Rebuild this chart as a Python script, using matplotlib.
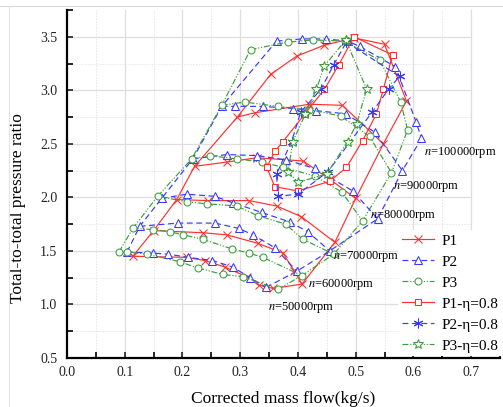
import matplotlib
matplotlib.use("Agg")
import matplotlib.pyplot as plt
from matplotlib.ticker import MultipleLocator
from matplotlib.lines import Line2D

plt.rcParams['font.family'] = ['Liberation Serif', 'DejaVu Serif']
plt.rcParams['mathtext.fontset'] = 'stix'

speeds = [50000, 60000, 70000, 80000, 90000, 100000]

# Speed lines: corrected mass flow (kg/s) and total-to-total pressure ratio
p1_flow = [
    [0.114, 0.207, 0.239, 0.273, 0.311, 0.332, 0.357],
    [0.150, 0.235, 0.277, 0.331, 0.374, 0.394, 0.407],
    [0.190, 0.244, 0.315, 0.363, 0.406, 0.464],
    [0.221, 0.277, 0.329, 0.409, 0.455, 0.500],
    [0.295, 0.325, 0.420, 0.477, 0.548],
    [0.353, 0.398, 0.445, 0.497, 0.550, 0.588],
]
p1_pr = [
    [1.45, 1.44, 1.41, 1.35, 1.26, 1.18, 1.15],
    [1.69, 1.67, 1.65, 1.57, 1.48, 1.31, 1.19],
    [1.98, 1.97, 1.97, 1.92, 1.82, 1.58],
    [2.29, 2.33, 2.37, 2.34, 2.17, 1.99],
    [2.75, 2.79, 2.87, 2.86, 2.50],
    [3.15, 3.32, 3.42, 3.49, 3.43, 2.90],
]

p2_flow = [
    [0.104, 0.149, 0.175, 0.210, 0.252, 0.287, 0.317, 0.345],
    [0.126, 0.192, 0.256, 0.298, 0.322, 0.360, 0.398],
    [0.164, 0.207, 0.256, 0.287, 0.337, 0.386, 0.417, 0.455],
    [0.218, 0.277, 0.329, 0.380, 0.429, 0.495, 0.538],
    [0.268, 0.291, 0.339, 0.391, 0.432, 0.483, 0.533, 0.581],
    [0.363, 0.407, 0.448, 0.486, 0.507, 0.569, 0.605, 0.614],
]
p2_pr = [
    [1.49, 1.48, 1.47, 1.44, 1.41, 1.35, 1.25, 1.16],
    [1.73, 1.76, 1.76, 1.71, 1.65, 1.53, 1.31],
    [1.99, 2.03, 2.01, 1.95, 1.86, 1.77, 1.68, 1.50],
    [2.36, 2.40, 2.39, 2.35, 2.27, 2.06, 1.80],
    [2.85, 2.85, 2.85, 2.83, 2.81, 2.78, 2.61, 2.25],
    [3.46, 3.48, 3.48, 3.46, 3.41, 3.22, 2.70, 2.55],
]

p3_flow = [
    [0.090, 0.104, 0.138, 0.195, 0.227, 0.270, 0.305, 0.365],
    [0.114, 0.149, 0.178, 0.201, 0.235, 0.285, 0.315, 0.339, 0.407],
    [0.157, 0.207, 0.242, 0.294, 0.330, 0.379, 0.408, 0.462],
    [0.216, 0.247, 0.294, 0.337, 0.375, 0.429, 0.476, 0.512],
    [0.268, 0.308, 0.365, 0.420, 0.474, 0.524, 0.562],
    [0.318, 0.382, 0.426, 0.481, 0.542, 0.578, 0.590],
]
p3_pr = [
    [1.49, 1.49, 1.47, 1.40, 1.34, 1.28, 1.26, 1.14],
    [1.71, 1.70, 1.68, 1.65, 1.61, 1.52, 1.48, 1.44, 1.27],
    [2.01, 1.96, 1.94, 1.92, 1.83, 1.75, 1.61, 1.47],
    [2.36, 2.39, 2.36, 2.33, 2.28, 2.20, 2.05, 1.78],
    [2.86, 2.89, 2.85, 2.82, 2.76, 2.57, 2.23],
    [3.38, 3.45, 3.47, 3.46, 3.28, 2.89, 2.63],
]

# Efficiency 0.8 contours
p1_eta_flow = [0.497, 0.564, 0.548, 0.536, 0.512, 0.484, 0.455, 0.400, 0.360,
               0.346, 0.360, 0.374, 0.412, 0.446, 0.471, 0.497]
p1_eta_pr = [3.50, 3.33, 3.01, 2.78, 2.53, 2.28, 2.15, 2.06, 2.10,
             2.28, 2.43, 2.52, 2.78, 3.01, 3.24, 3.50]

p2_eta_flow = [0.484, 0.576, 0.557, 0.529, 0.452, 0.400, 0.365, 0.363,
               0.389, 0.405, 0.440, 0.462, 0.484]
p2_eta_pr = [3.45, 3.13, 3.01, 2.80, 2.24, 2.03, 2.01, 2.22,
             2.52, 2.80, 3.01, 3.24, 3.45]

p3_eta_flow = [0.483, 0.519, 0.502, 0.486, 0.450, 0.400, 0.383, 0.391,
               0.413, 0.432, 0.446, 0.483]
p3_eta_pr = [3.47, 3.01, 2.69, 2.52, 2.22, 2.14, 2.24, 2.52,
             2.78, 3.01, 3.23, 3.47]

speed_labels = [r'$n$=50000rpm', r'$n$=60000rpm', r'$n$=70000rpm',
                r'$n$=80000rpm', r'$n$=90000rpm', r'$n$=100000rpm']
label_pos = [(0.348, 0.97), (0.417, 1.19), (0.460, 1.45),
             (0.524, 1.83), (0.564, 2.10), (0.619, 2.42)]

RED = '#FF3030'
BLUE = '#3838FF'
GREEN = '#3A9E3A'
LW = 0.85

fig = plt.figure(figsize=(5.03, 4.07), dpi=100)
ax = fig.add_axes([0.1332, 0.1204, 0.8608, 0.855])
ax.set_xlim(0.0, 0.75)
ax.set_ylim(0.5, 3.75)

# grid
for gx in [i * 0.05 for i in range(1, 15)]:
    major = abs(gx * 10 - round(gx * 10)) < 1e-6
    ax.axvline(gx, color='#dedede' if major else '#e6e6e6',
               lw=0.9 if major else 0.7, ls='-' if major else (0, (1.5, 1.5)),
               zorder=0)
for gy in [0.75 + i * 0.25 for i in range(12)]:
    major = abs(gy * 2 - round(gy * 2)) < 1e-6
    ax.hlines(gy, 0.0, 0.70, color='#dedede' if major else '#e6e6e6',
              lw=0.9 if major else 0.7, ls='-' if major else (0, (1.5, 1.5)),
              zorder=0)

configs = [
    ('P1', p1_flow, p1_pr, RED, '-', 'x', 6),
    ('P2', p2_flow, p2_pr, BLUE, (0, (5, 3)), '^', 6),
    ('P3', p3_flow, p3_pr, GREEN, (0, (5, 1.5, 1, 1.5, 1, 1.5)), 'o', 5),
]
for name, flows, prs, col, ls, mk, ms in configs:
    for k, (f, p) in enumerate(zip(flows, prs)):
        ax.plot(f, p, color=col, ls=ls, lw=LW, marker=mk, ms=ms,
                mfc='white' if mk != 'x' else col, mec=col, mew=0.75,
                label=name if k == 0 else None, zorder=3)
    # surge and choke boundaries through the speed-line end points
    ax.plot([f[0] for f in flows], [p[0] for p in prs], color=col, ls=ls,
            lw=LW, zorder=2)
    ax.plot([f[-1] for f in flows], [p[-1] for p in prs], color=col, ls=ls,
            lw=LW, zorder=2)

eta_sets = [
    ('P1-η=0.8', p1_eta_flow, p1_eta_pr, RED, '-', 's', 5),
    ('P2-η=0.8', p2_eta_flow, p2_eta_pr, BLUE, (0, (5, 3)), (6, 2, 0), 7),
    ('P3-η=0.8', p3_eta_flow, p3_eta_pr, GREEN, (0, (5, 1.5, 1, 1.5, 1, 1.5)), '*', 7),
]
for name, f, p, col, ls, mk, ms in eta_sets:
    ax.plot(f, p, color=col, ls=ls, lw=LW, marker=mk, ms=ms,
            mfc='white', mec=col, mew=0.75, label=name, zorder=4)

for txt, (x, y) in zip(speed_labels, label_pos):
    ax.text(x, y, txt, fontsize=9, ha='left', va='center', zorder=5)

# axes styling
for side in ['top', 'right']:
    ax.spines[side].set_visible(False)
for side in ['left', 'bottom']:
    ax.spines[side].set_linewidth(1.6)
ax.xaxis.set_major_locator(MultipleLocator(0.1))
ax.xaxis.set_minor_locator(MultipleLocator(0.05))
ax.yaxis.set_major_locator(MultipleLocator(0.5))
ax.yaxis.set_minor_locator(MultipleLocator(0.25))
ax.set_xticks([i / 10 for i in range(8)])
ax.set_xticklabels(['%.1f' % (i / 10) for i in range(8)])
ax.set_yticks([0.5 + i * 0.5 for i in range(7)])
ax.set_yticklabels(['%.1f' % (0.5 + i * 0.5) for i in range(7)])
ax.tick_params(which='both', direction='in', length=4, width=1.2,
               top=False, right=False)
ax.tick_params(which='major', labelsize=10, colors='#222222')
ax.tick_params(axis='y', pad=7)
ax.tick_params(axis='x', pad=6)

ax.set_xlabel('Corrected mass flow(kg/s)', fontsize=12.5)
ax.set_ylabel('Total-to-total pressure ratio', fontsize=12.5)
ax.xaxis.set_label_coords(0.5, -0.095)
ax.yaxis.set_label_coords(-0.095, 0.43)

leg = ax.legend(loc='lower right', bbox_to_anchor=(1.008, 0.0), fontsize=11,
                frameon=True, framealpha=1.0, edgecolor='none',
                fancybox=False, handlelength=2.1, handletextpad=0.5,
                labelspacing=0.48, borderpad=0.25, borderaxespad=0.1)
leg.set_zorder(6)

# light frame around the figure
fig.add_artist(Line2D([0.0, 1.0], [0.985, 0.985], color='#d8d8d8', lw=0.8))
fig.add_artist(Line2D([0.018, 0.018], [0.0, 0.985], color='#e4e4e4', lw=0.8))

fig.savefig('out.png', dpi=100)
